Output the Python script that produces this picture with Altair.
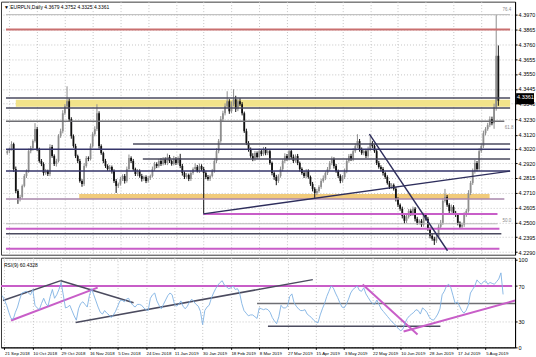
import json
import altair as alt
import pandas as pd

# ---------------- data ----------------
symbol_header = "\u25bc EURPLN,Daily  4.3679 4.3752 4.3325 4.3361"
rsi_header = "RSI(9) 60.4328"

first_open = 4.2990
closes = [
    4.3004, 4.3018, 4.3054, 4.2877, 4.2722, 4.2666, 4.2680, 4.2758, 4.2828, 4.2863,
    4.3004, 4.3026, 4.3075, 4.3160, 4.3018, 4.2934, 4.2913, 4.2849, 4.2863, 4.2842,
    4.3033, 4.2969, 4.2913, 4.2934, 4.3110, 4.3145, 4.3272, 4.3322, 4.3357, 4.3230,
    4.3110, 4.3040, 4.2969, 4.2934, 4.2793, 4.2772, 4.2899, 4.2955, 4.2948, 4.3040,
    4.3124, 4.3160, 4.3272, 4.3040, 4.2990, 4.2934, 4.2899, 4.2877, 4.2892, 4.2863,
    4.2793, 4.2758, 4.2772, 4.2807, 4.2828, 4.2793, 4.2877, 4.2955, 4.2934, 4.2877,
    4.2842, 4.2863, 4.2828, 4.2807, 4.2821, 4.2793, 4.2814, 4.2828, 4.2877, 4.2913,
    4.2899, 4.2934, 4.2913, 4.2948, 4.2920, 4.2962, 4.2934, 4.2913, 4.2948, 4.2920,
    4.2955, 4.2899, 4.2849, 4.2821, 4.2835, 4.2807, 4.2849, 4.2877, 4.2892, 4.2863,
    4.2899, 4.2877, 4.2849, 4.2821, 4.2807, 4.2828, 4.2863, 4.2934, 4.3004, 4.3075,
    4.3230, 4.3272, 4.3322, 4.3357, 4.3286, 4.3336, 4.3371, 4.3301, 4.3357, 4.3336,
    4.3272, 4.3145, 4.3061, 4.3018, 4.2969, 4.2948, 4.2990, 4.2962, 4.3004, 4.2983,
    4.3018, 4.2990, 4.3004, 4.2920, 4.2849, 4.2821, 4.2793, 4.2828, 4.2877, 4.2934,
    4.2969, 4.2948, 4.3004, 4.2962, 4.2934, 4.2969, 4.2920, 4.2877, 4.2849, 4.2828,
    4.2863, 4.2821, 4.2772, 4.2737, 4.2708, 4.2722, 4.2751, 4.2793, 4.2814, 4.2849,
    4.2877, 4.2920, 4.2948, 4.2899, 4.2863, 4.2828, 4.2793, 4.2821, 4.2863, 4.2934,
    4.2969, 4.2948, 4.3004, 4.3040, 4.3075, 4.3018, 4.2990, 4.3004, 4.2969, 4.3018,
    4.3061, 4.3040, 4.3004, 4.2920, 4.2892, 4.2877, 4.2849, 4.2821, 4.2779, 4.2751,
    4.2765, 4.2737, 4.2666, 4.2624, 4.2596, 4.2546, 4.2511, 4.2539, 4.2581, 4.2560,
    4.2596, 4.2525, 4.2497, 4.2511, 4.2483, 4.2553, 4.2525, 4.2455, 4.2405, 4.2384,
    4.2370, 4.2398, 4.2469, 4.2497, 4.2652, 4.2680, 4.2624, 4.2581, 4.2610, 4.2567,
    4.2553, 4.2497, 4.2469, 4.2483, 4.2553, 4.2581, 4.2708, 4.2779, 4.2863, 4.2920,
    4.2877, 4.3004, 4.3040, 4.3131, 4.3160, 4.3188, 4.3230, 4.3202, 4.3315, 4.3679,
    4.3361,
]
wick_up_pips = [
    15, 12, 20, 10, 18, 12, 15, 10, 14, 12,
    18, 15, 12, 42, 16, 10, 14, 12, 15, 10,
    20, 15, 12, 16, 14, 18, 22, 15, 106, 20,
    14, 12, 16, 10, 15, 12, 20, 14, 12, 18,
    15, 20, 64, 14, 12, 10, 15, 12, 14, 10,
    12, 14, 10, 15, 12, 14, 18, 25, 12, 15,
    10, 14, 12, 15, 10, 12, 14, 10, 18, 15,
    12, 15, 20, 14, 12, 25, 15, 10, 22, 14,
    12, 30, 15, 12, 14, 10, 16, 12, 25, 14,
    18, 12, 15, 12, 14, 10, 15, 18, 20, 15,
    22, 18, 20, 71, 15, 20, 71, 25, 18, 22,
    15, 12, 18, 14, 12, 20, 15, 12, 18, 14,
    16, 15, 12, 14, 10, 12, 15, 12, 18, 14,
    20, 15, 12, 14, 18, 12, 15, 10, 12, 16,
    14, 12, 10, 14, 12, 15, 12, 14, 18, 12,
    15, 14, 18, 12, 14, 10, 12, 14, 18, 15,
    14, 16, 20, 18, 49, 15, 12, 14, 16, 18,
    49, 14, 12, 10, 15, 12, 14, 10, 12, 14,
    12, 10, 14, 12, 10, 15, 12, 18, 14, 12,
    16, 12, 14, 10, 12, 15, 12, 14, 10, 12,
    14, 15, 18, 20, 20, 57, 14, 12, 16, 12,
    14, 12, 10, 15, 18, 14, 20, 15, 18, 22,
    14, 20, 15, 18, 14, 16, 20, 18, 25, 291,
    73,
]
wick_dn_pips = [
    12, 15, 10, 20, 15, 35, 18, 12, 10, 14,
    12, 15, 18, 10, 14, 12, 15, 18, 12, 14,
    15, 12, 14, 18, 10, 12, 15, 12, 14, 15,
    18, 12, 14, 15, 12, 20, 14, 12, 15, 10,
    12, 15, 14, 18, 12, 15, 14, 12, 15, 18,
    14, 50, 15, 12, 14, 18, 12, 14, 15, 12,
    14, 15, 12, 18, 14, 15, 12, 14, 10, 12,
    15, 12, 14, 10, 12, 15, 14, 12, 10, 14,
    12, 15, 18, 14, 12, 15, 14, 12, 15, 10,
    14, 12, 289, 15, 12, 14, 10, 12, 14, 15,
    12, 14, 15, 10, 18, 12, 15, 20, 14, 12,
    15, 12, 14, 18, 12, 15, 14, 12, 10, 14,
    12, 15, 14, 12, 16, 20, 30, 14, 12, 15,
    14, 12, 10, 15, 14, 12, 15, 18, 12, 14,
    15, 12, 14, 18, 35, 15, 12, 14, 12, 15,
    14, 12, 15, 18, 12, 14, 16, 12, 14, 15,
    12, 14, 15, 12, 14, 18, 12, 15, 14, 12,
    14, 15, 12, 14, 12, 15, 18, 14, 12, 15,
    14, 12, 18, 15, 14, 18, 20, 15, 12, 14,
    15, 18, 14, 12, 15, 14, 12, 15, 18, 14,
    30, 15, 12, 14, 15, 12, 14, 15, 12, 14,
    15, 18, 14, 12, 15, 14, 12, 15, 14, 18,
    15, 14, 12, 14, 15, 12, 14, 15, 40, 25,
    36,
]
rsi_values = [
    59, 54, 48, 40, 33, 32, 40, 46, 55, 62,
    63, 64, 62, 60, 66, 48, 45, 43, 50, 56,
    50, 47, 58, 66, 56, 60, 66, 74, 60, 45,
    46, 48, 42, 36, 31, 44, 50, 52, 49, 46,
    59, 67, 60, 53, 46, 40, 38, 42, 39, 37,
    34, 37, 41, 47, 53, 54, 52, 55, 56, 51,
    48, 46, 49, 49, 48, 45, 43, 42, 56, 60,
    62, 53, 48, 44, 49, 54, 59, 62, 60, 50,
    47, 49, 53, 47, 44, 47, 52, 55, 52, 49,
    47, 41, 26, 42, 46, 48, 56, 62, 67, 71,
    74, 76, 71, 69, 67, 68, 70, 66, 67, 62,
    50, 42, 39, 36, 37, 37, 35, 33, 45, 44,
    43, 44, 43, 40, 34, 30, 27, 35, 48, 45,
    45, 47, 58, 61, 51, 47, 44, 42, 42, 43,
    38, 36, 34, 31, 29, 28, 37, 44, 50, 58,
    64, 70, 68, 62, 57, 51, 46, 45, 49, 55,
    62, 66, 68, 70, 65, 64, 68, 61, 57, 53,
    50, 49, 54, 49, 44, 41, 38, 35, 32, 29,
    27, 24, 21, 19, 21, 28, 33, 36, 38, 40,
    43, 42, 38, 45, 43, 40, 35, 32, 31, 34,
    38, 44, 60, 64, 70, 72, 68, 59, 50, 52,
    47, 42, 39, 42, 48, 62, 66, 70, 77, 74,
    72, 75, 76, 72, 74, 73, 72, 75, 78, 85,
    60.43,
]

date_labels = ["21 Sep 2018", "10 Oct 2018", "29 Oct 2018", "16 Nov 2018", "5 Dec 2018",
               "24 Dec 2018", "11 Jan 2019", "30 Jan 2019", "18 Feb 2019", "8 Mar 2019",
               "27 Mar 2019", "15 Apr 2019", "3 May 2019", "22 May 2019", "10 Jun 2019",
               "28 Jun 2019", "17 Jul 2019", "5 Aug 2019"]
first_label_bar = 1
label_step = 13

price_ticks = [4.3970, 4.3865, 4.3760, 4.3655, 4.3550, 4.3445, 4.3340, 4.3230, 4.3120,
               4.3020, 4.2920, 4.2815, 4.2710, 4.2605, 4.2500, 4.2395, 4.2290]
rsi_ticks = [0, 30, 70, 100]
last_price = 4.3361

# horizontal price levels (price, from bar, to bar, kind)
level_prices = [4.3970, 4.3865, 4.3380, 4.3310, 4.3216, 4.3054, 4.3018, 4.2948,
                4.2863, 4.2666, 4.2560, 4.2490, 4.2455, 4.2419, 4.2314]
level_from = [-0.6, -0.6, -0.6, -0.6, -0.6, 58.9, -0.6, 63.5,
              -0.6, -0.6, 91.8, -0.6, -0.6, -0.6, -0.6]
level_to = [235.5, 235.5, 235.5, 235.5, 232.8, 235.5, 235.5, 235.5,
            235.5, 232.8, 229.6, 229.6, 230.5, 231.4, 230.5]
level_kind = ["fib", "red", "dark", "dark", "gray", "dark", "navy", "dark",
              "navy", "mauve", "magenta", "fib", "magenta", "dark", "magenta"]

zone_from = [4.0, 33.7]
zone_to = [235.5, 225.9]
zone_low = [4.3318, 4.2666]
zone_high = [4.3368, 4.2701]
zone_kind = ["yellow", "orange"]

trend_x0 = [91.8, 169.6]
trend_p0 = [4.2560, 4.3124]
trend_x1 = [235.5, 206.2]
trend_p1 = [4.2863, 4.2299]

rsi_seg_x0 = [-0.6, 117.0, 122.0, 0.3, 26.9, 4.0, 33.7, 165.5, 184.3]
rsi_seg_v0 = [70, 50, 24, 53.4, 76.1, 30.7, 28.4, 71.6, 18.2]
rsi_seg_x1 = [234.1, 235.5, 201.2, 26.9, 60.3, 43.8, 142.6, 190.7, 235.5]
rsi_seg_v1 = [70, 50, 24, 76.1, 51.0, 68.2, 77.3, 14.8, 53.4]
rsi_seg_kind = ["magenta", "gray", "dark", "dark", "dark", "magenta", "dark", "magenta", "magenta"]

fib_labels = ["76.4", "61.8", "50.0"]
fib_label_bar = [232.0, 233.0, 232.0]
fib_label_price = [4.4006, 4.3167, 4.2511]

# ---------------- styles ----------------
palette = {"fib": "#b8b8b8", "red": "#c96f6f", "dark": "#4b4b5f", "gray": "#6e6e73",
           "navy": "#35356a", "mauve": "#a987ab", "magenta": "#c85ec8",
           "yellow": "#f2e38a", "orange": "#f1cb7b"}
widths = {"fib": 1, "red": 2, "dark": 1.5, "gray": 1.5, "navy": 1.5, "mauve": 1.5, "magenta": 2}
FONT = "Liberation Sans"
GRID = "#c6c6c6"

# ---------------- tables ----------------
opens = [first_open] + closes[:-1]
rows = []
for i, (o, c, u, d) in enumerate(zip(opens, closes, wick_up_pips, wick_dn_pips)):
    rows.append(dict(i=i, open=o, close=c,
                     high=max(o, c) + u / 10000.0, low=min(o, c) - d / 10000.0,
                     col="#111111" if c < o else "#8e8e8e"))
candles = pd.DataFrame(rows)

levels = pd.DataFrame(dict(p=level_prices, x0=level_from, x1=level_to,
                           c=[palette[k] for k in level_kind],
                           w=[widths[k] for k in level_kind]))
zones = pd.DataFrame(dict(x0=zone_from, x1=zone_to, lo=zone_low, hi=zone_high,
                          c=[palette[k] for k in zone_kind]))
trends = pd.DataFrame(dict(x0=trend_x0, p0=trend_p0, x1=trend_x1, p1=trend_p1))
fibs = pd.DataFrame(dict(t=fib_labels, i=fib_label_bar, p=fib_label_price))
rsi_df = pd.DataFrame(dict(i=list(range(len(rsi_values))), v=rsi_values))
rsi_segs = pd.DataFrame(dict(x0=rsi_seg_x0, v0=rsi_seg_v0, x1=rsi_seg_x1, v1=rsi_seg_v1,
                             c=[palette[k] for k in rsi_seg_kind],
                             w=[widths[k] for k in rsi_seg_kind]))

tick_bars = [first_label_bar + label_step * k for k in range(len(date_labels))]
label_expr = f"{json.dumps(date_labels)}[round((datum.value - {first_label_bar}) / {label_step})]"

xs = alt.Scale(domain=[-0.6, 235.5], nice=False, zero=False)
ys = alt.Scale(domain=[4.2271, 4.4062], nice=False, zero=False)
rs = alt.Scale(domain=[0, 102.3], nice=False, zero=False)

x_main_axis = alt.Axis(values=tick_bars, labels=False, ticks=False, domain=False, grid=True,
                       gridDash=[1, 2], gridColor=GRID, title=None)
y_main_axis = alt.Axis(orient="right", values=price_ticks, format=".4f", labelFontSize=5.5,
                       labelFont=FONT, labelColor="#000", tickSize=2, tickColor="#000",
                       labelPadding=1, grid=True, gridDash=[1, 2], gridColor=GRID,
                       domainColor="#000", title=None, labelOverlap=False)

W, H_MAIN, H_RSI = 516, 254, 90


def mx(field):
    return alt.X(field, scale=xs, axis=x_main_axis)


def my(field):
    return alt.Y(field, scale=ys, axis=y_main_axis)


zone_layer = alt.Chart(zones).mark_rect().encode(
    x=mx("x0:Q"), x2="x1:Q", y=my("lo:Q"), y2="hi:Q",
    color=alt.Color("c:N", scale=None))

wicks = alt.Chart(candles).mark_rule(strokeWidth=1).encode(
    x=mx("i:Q"), y=my("low:Q"), y2="high:Q",
    color=alt.Color("col:N", scale=None))

bodies = alt.Chart(candles).mark_bar(size=1.8).encode(
    x=mx("i:Q"), y=my("open:Q"), y2="close:Q",
    color=alt.Color("col:N", scale=None))

level_layer = alt.Chart(levels).mark_rule(clip=True).encode(
    x=mx("x0:Q"), x2="x1:Q", y=my("p:Q"),
    color=alt.Color("c:N", scale=None),
    strokeWidth=alt.StrokeWidth("w:Q", scale=None))

trend_layer = alt.Chart(trends).mark_rule(clip=True, color="#2e2e5c", strokeWidth=1.4).encode(
    x=mx("x0:Q"), x2="x1:Q", y=my("p0:Q"), y2="p1:Q")

fib_layer = alt.Chart(fibs).mark_text(fontSize=4.5, font=FONT, color="#8a8a8a",
                                      align="left", baseline="middle").encode(
    x=mx("i:Q"), y=my("p:Q"), text="t:N")

header_layer = alt.Chart(pd.DataFrame(dict(t=[symbol_header]))).mark_text(
    fontSize=5, font=FONT, color="#000", align="left", baseline="middle").encode(
    x=alt.value(3), y=alt.value(5), text="t:N")

box_df = pd.DataFrame(dict(p=[last_price], t=[f"{last_price:.4f}"]))
box_rect = alt.Chart(box_df).transform_calculate(
    top="datum.p + 0.0025", bot="datum.p - 0.0025").mark_rect(color="#000", yOffset=-4).encode(
    x=alt.value(W + 1), x2=alt.value(W + 19), y=my("top:Q"), y2="bot:Q")
box_text = alt.Chart(box_df).mark_text(fontSize=5.5, font=FONT, color="#fff",
                                       align="left", baseline="middle", dy=-4).encode(
    x=alt.value(W + 2), y=my("p:Q"), text="t:N")

main = alt.layer(zone_layer, wicks, bodies, level_layer, trend_layer, fib_layer,
                 header_layer, box_rect, box_text).properties(width=W, height=H_MAIN)

x_rsi_axis = alt.Axis(values=tick_bars, labelExpr=label_expr, labelAlign="left",
                      labelFontSize=4.4, labelFont=FONT, labelColor="#000", tickSize=2,
                      tickColor="#000", labelPadding=2, grid=True, gridDash=[1, 2],
                      gridColor=GRID, domainColor="#000", title=None,
                      labelOverlap=False, labelFlush=False)
y_rsi_axis = alt.Axis(orient="right", values=rsi_ticks, labelFontSize=5.5, labelFont=FONT,
                      labelColor="#000", tickSize=2, tickColor="#000", labelPadding=1,
                      grid=True, gridDash=[1, 2], gridColor=GRID, domainColor="#000",
                      title=None, labelOverlap=False)


def rx(field):
    return alt.X(field, scale=xs, axis=x_rsi_axis)


def ry(field):
    return alt.Y(field, scale=rs, axis=y_rsi_axis)


rsi_seg_layer = alt.Chart(rsi_segs).mark_rule(clip=True).encode(
    x=rx("x0:Q"), x2="x1:Q", y=ry("v0:Q"), y2="v1:Q",
    color=alt.Color("c:N", scale=None),
    strokeWidth=alt.StrokeWidth("w:Q", scale=None))

rsi_line = alt.Chart(rsi_df).mark_line(color="#7fb2e3", strokeWidth=0.9, clip=True).encode(
    x=rx("i:Q"), y=ry("v:Q"))

rsi_title = alt.Chart(pd.DataFrame(dict(t=[rsi_header]))).mark_text(
    fontSize=5, font=FONT, color="#000", align="left", baseline="middle").encode(
    x=alt.value(3), y=alt.value(7), text="t:N")

rsi = alt.layer(rsi_seg_layer, rsi_line, rsi_title).properties(width=W, height=H_RSI)

chart = alt.vconcat(main, rsi, spacing=0).properties(
    padding={"left": 0, "top": 0, "right": 0, "bottom": 0}, background="#ffffff"
).configure_view(stroke="#3a3a3a", strokeWidth=1)

chart.save("out.html", embed_options={"renderer": "svg", "actions": False})
